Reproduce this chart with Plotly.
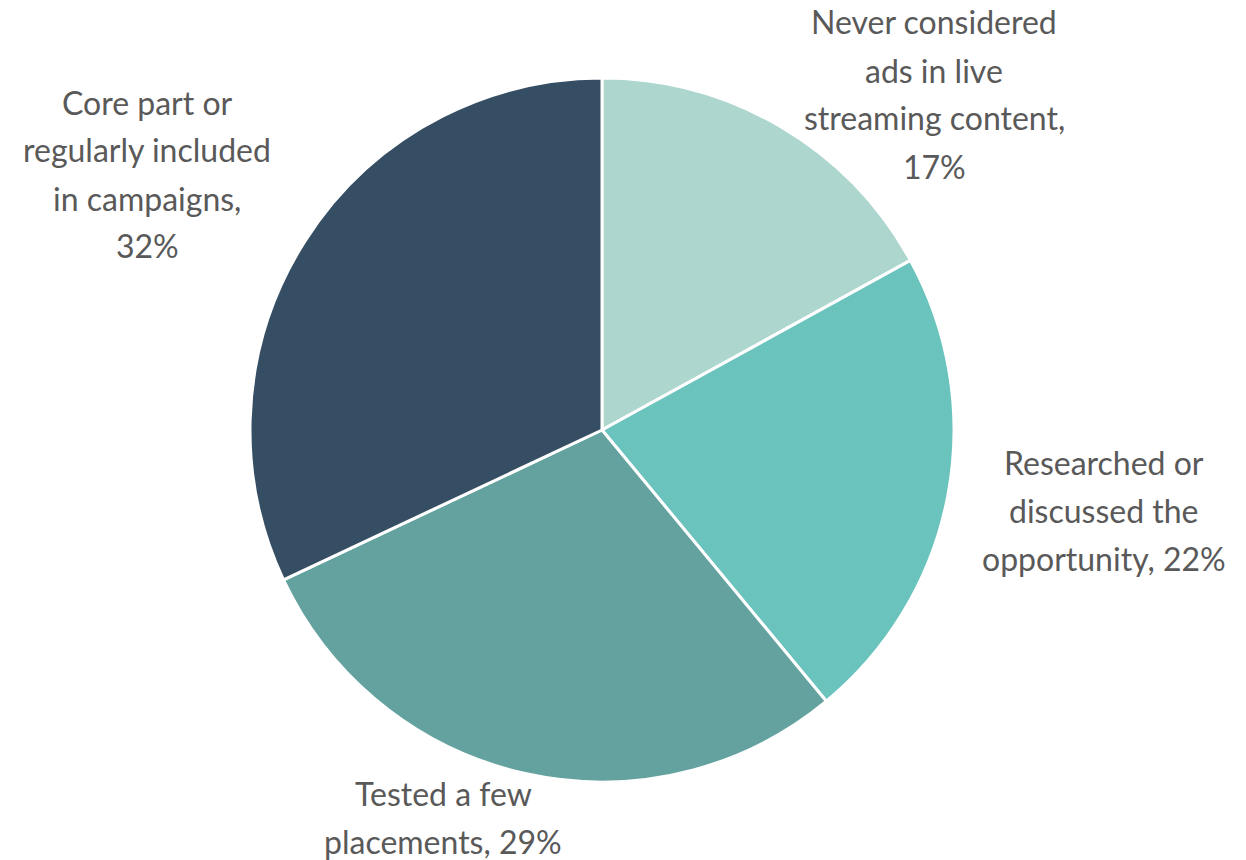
import plotly.graph_objects as go

categories = [
    "Never considered ads in live streaming content",
    "Researched or discussed the opportunity",
    "Tested a few placements",
    "Core part or regularly included in campaigns",
]
values = [17, 22, 29, 32]
colors = ["#ADD6CF", "#6BC3BD", "#64A29F", "#364E63"]
label_lines = [
    ["Never considered", "ads in live", "streaming content,", "17%"],
    ["Researched or", "discussed the", "opportunity, 22%"],
    ["Tested a few", "placements, 29%"],
    ["Core part or", "regularly included", "in campaigns,", "32%"],
]

W, H = 1246, 860
# label first-line centres (pixels) and line spacing
label_pos = [(934, 22), (1104, 462), (443, 793), (147, 102)]
line_gap = 48


def px(x):
    return x / W


def py(y):
    return 1 - y / H


fig = go.Figure(go.Pie(
    labels=categories,
    values=values,
    sort=False,
    direction="clockwise",
    rotation=0,
    marker=dict(colors=colors, line=dict(color="white", width=3)),
    textinfo="none",
    hoverinfo="label+percent",
    domain=dict(x=[px(250), px(954)], y=[py(782), py(78)]),
    showlegend=False,
))

annotations = []
for lines, (cx, cy) in zip(label_lines, label_pos):
    for i, line in enumerate(lines):
        annotations.append(dict(
            x=px(cx), y=py(cy + i * line_gap),
            xref="paper", yref="paper",
            xanchor="center", yanchor="middle",
            text=line, showarrow=False,
            font=dict(family="Lato", size=32, color="#595959"),
        ))

fig.update_layout(
    width=W, height=H,
    margin=dict(l=0, r=0, t=0, b=0),
    paper_bgcolor="white",
    plot_bgcolor="white",
    annotations=annotations,
)

fig.write_html(
    "out.html",
    config={"displayModeBar": False},
    post_script="document.body.style.margin='0';document.body.style.overflow='hidden';",
)
